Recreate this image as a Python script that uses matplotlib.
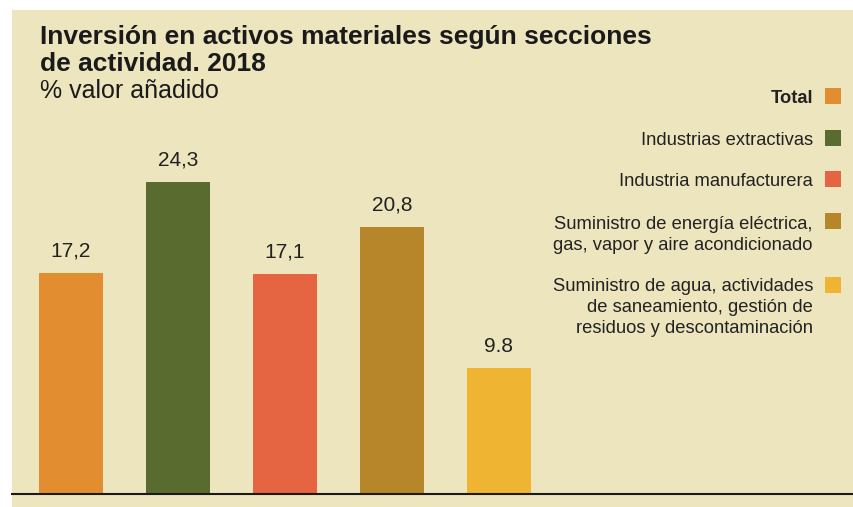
import matplotlib
matplotlib.use('Agg')
from matplotlib import pyplot as plt
from matplotlib.patches import Rectangle

plt.rcParams['font.family'] = ['Liberation Sans', 'DejaVu Sans']

# data
categories = ['Total', 'Industrias extractivas', 'Industria manufacturera',
              'Suministro de energía eléctrica,\ngas, vapor y aire acondicionado',
              'Suministro de agua, actividades\nde saneamiento, gestión de\nresiduos y descontaminación']
values = [17.2, 24.3, 17.1, 20.8, 9.8]
value_labels = ['17,2', '24,3', '17,1', '20,8', '9.8']
colors = ['#E28D30', '#5A6B30', '#E56441', '#B8862A', '#EFB431']

BG = '#EDE5BE'
W, H = 854, 507
fig = plt.figure(figsize=(W / 100, H / 100), dpi=100)
fig.patch.set_facecolor('white')


def fy(y):
    # pixel row from top -> figure fraction
    return 1 - y / H


# background panel
fig.add_artist(Rectangle((12 / W, 0), 1, fy(10), transform=fig.transFigure,
                         facecolor=BG, edgecolor='none', zorder=0))

# axes in pixel terms: left 12, baseline at y=494
px_per_unit = 12.85
ax = fig.add_axes([12 / W, fy(494), (W - 12) / W, (494 - 10) / H])
ax.set_facecolor('none')
xs = list(range(len(values)))
ax.bar(xs, values, width=0.6, color=colors, zorder=2)
for x, v, lab in zip(xs, values, value_labels):
    ax.annotate(lab, (x, v), xytext=(0, 9), textcoords='offset points',
                ha='center', va='bottom', fontsize=15, color='#222222')
ax.set_xlim((12 - 71) / 107, (W - 71) / 107)
ax.set_ylim(0, 484 / px_per_unit)
for s in ['top', 'right', 'left']:
    ax.spines[s].set_visible(False)
ax.spines['bottom'].set_color('#1a1a1a')
ax.spines['bottom'].set_linewidth(1.5)
ax.set_xticks([])
ax.set_yticks([])

# titles
fig.text(40 / W, fy(44), 'Inversión en activos materiales según secciones',
         ha='left', va='baseline', fontsize=19, fontweight='bold', color='#1a1a1a')
fig.text(40 / W, fy(71), 'de actividad. 2018',
         ha='left', va='baseline', fontsize=19, fontweight='bold', color='#1a1a1a')
fig.text(40 / W, fy(98), '% valor añadido', ha='left', va='baseline',
         fontsize=18, color='#1a1a1a')

# legend
legend_y = [103, 145, 186, 229, 291]
square_y = [96, 138, 179, 221, 285]
for lab, c, y, sy in zip(categories, colors, legend_y, square_y):
    for i, line in enumerate(lab.split('\n')):
        fig.text(813 / W, fy(y + 21 * i), line, ha='right', va='baseline', fontsize=13.2,
                 color='#222222', fontweight='bold' if lab == 'Total' else 'normal')
    fig.add_artist(Rectangle((825 / W, fy(sy + 8)), 16 / W, 16 / H,
                             transform=fig.transFigure, facecolor=c, edgecolor='none'))

fig.savefig('out.png', dpi=100, facecolor=fig.get_facecolor())
